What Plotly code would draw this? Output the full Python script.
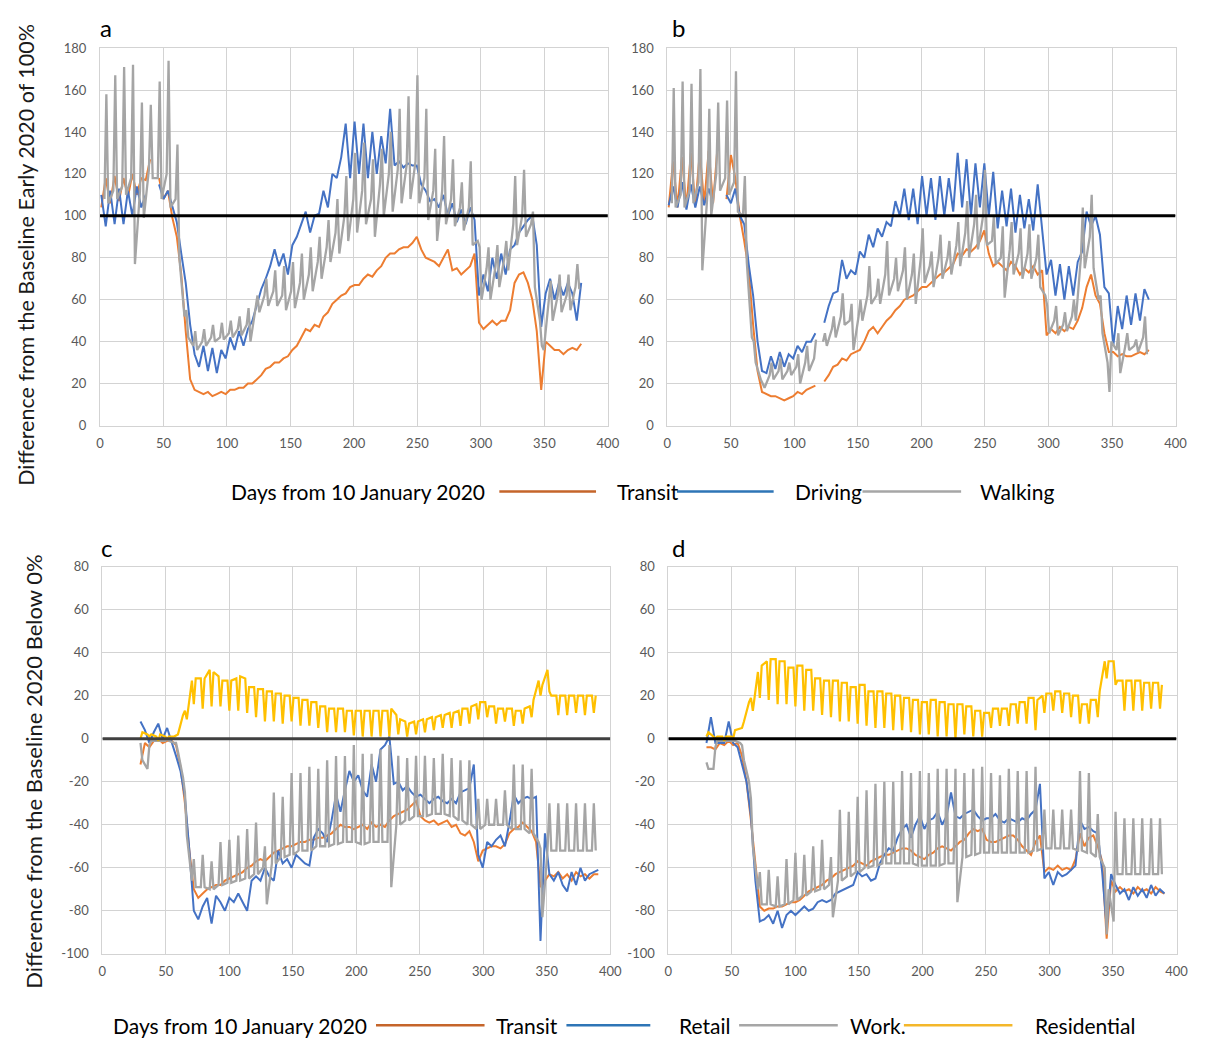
import plotly.graph_objects as go

# ======================= DATA =======================
# Panels a/b: smooth-ish series sampled every 3.5 days from day 1
days_ab = [1 + 3.5 * i for i in range(109)]
a_driving = [110, 95, 112, 96, 113, 96, 112, 100, 114, 104,
             110, None, None, 115, 108, 112, 104, 97, 82, 68,
             48, 34, 28, 38, 26, 37, 25, 36, 32, 42,
             36, 45, 38, 46, 50, 58, 65, 70, 76, 84,
             76, 82, 72, 86, 90, 96, 102, 92, 100, 101,
             112, 104, 120, 118, 128, 144, 118, 145, 120, 144,
             118, 140, 120, 138, 125, 151, 124, 126, 123, 125,
             124, 124, 115, 112, 107, 108, 104, 110, 100, 106,
             97, 103, 96, 104, 98, 62, 72, 64, 80, 70,
             82, 72, 84, 86, 92, 95, 98, 100, 86, 47,
             63, 70, 60, 68, 62, 68, 63, 50, 68]
a_transit = [104, 118, 106, 119, 107, 118, 109, 120, 110, 118,
             117, 127, None, 118, 108, 112, 99, 90, 72, 45,
             22, 17, 16, 15, 16, 14, 15, 16, 15, 17,
             17, 18, 18, 20, 20, 22, 24, 27, 28, 30,
             30, 32, 33, 36, 38, 42, 46, 45, 48, 47,
             52, 54, 58, 60, 62, 63, 66, 67, 67, 70,
             72, 71, 74, 76, 80, 82, 82, 84, 85, 85,
             87, 90, 84, 80, 79, 78, 76, 80, 84, 74,
             75, 72, 74, 76, 82, 49, 46, 48, 50, 48,
             50, 50, 55, 68, 72, 73, 68, 60, 45, 17,
             40, 38, 36, 36, 34, 36, 37, 36, 39]
b_driving = [105, 114, 104, 116, 103, 115, 104, 114, 105, 113,
             106, None, None, 110, 106, 113, 100, 96, 77, 62,
             40, 26, 25, 33, 27, 35, 28, 34, 32, 38,
             35, 40, 40, 44, None, 49, 57, 63, 64, 79,
             70, 74, 72, 83, 80, 91, 85, 94, 90, 97,
             95, 107, 100, 113, 98, 113, 96, 119, 100, 118,
             98, 119, 100, 118, 102, 130, 104, 127, 100, 125,
             104, 125, 100, 121, 94, 112, 95, 113, 92, 110,
             94, 108, 93, 115, 94, 72, 79, 62, 77, 60,
             76, 62, 78, 83, 102, 95, 100, 91, 66, 63,
             38, 57, 46, 62, 48, 63, 50, 65, 60]
b_transit = [104, 126, 104, 128, 104, 130, 105, 130, 106, 131,
             106, 133, None, 108, 129, 118, 100, 88, 74, 48,
             26, 16, 15, 14, 14, 13, 12, 13, 14, 16,
             15, 17, 18, 19, None, 21, 24, 28, 29, 32,
             31, 34, 35, 36, 40, 45, 47, 44, 47, 50,
             52, 55, 57, 60, 61, 62, 64, 66, 66, 68,
             70, 72, 73, 75, 77, 82, 81, 84, 83, 85,
             88, 93, 82, 76, 78, 76, 74, 78, 76, 72,
             75, 73, 76, 72, 74, 43, 46, 44, 47, 45,
             47, 46, 50, 56, 66, 72, 62, 58, 44, 35,
             35, 33, 34, 33, 33, 34, 35, 34, 36]

# Walking (weekly spikes): first spike on day 5, one spike per week
walk_first_peak = 5
a_walk_pre = [108, 112, 114, 118, 112, 122, 118, 120, 108, 52,
              38, 40, 42, 42, 44, 46, 48, 55, 62, 64,
              62, 64, 68, 72, 78, 85, 92, 100, 108, 112,
              108, 115, 120, 122, 124, 126, 118, 112, 112, 108,
              104, 104, 88, 75, 76, 80, 96, 100, 96, 50,
              58, 62, 62, 66]
a_walk_peak = [158, 167, 171, 172, 154, 153, 164, 174, 134, 55,
               45, 46, 48, 49, 50, 52, 56, 62, 70, 74,
               76, 78, 82, 85, 90, 98, 108, 119, 130, 135,
               127, 132, 140, 151, 157, 167, 151, 132, 138, 127,
               116, 126, 85, 85, 86, 88, 119, 122, 102, 38,
               69, 72, 72, 77]
a_walk_post = [106, 108, 110, 77, 99, 118, 108, 104, 80, 42,
               36, 38, 40, 41, 42, 43, 40, 54, 57, 57,
               55, 56, 60, 64, 70, 78, 82, 88, 92, 96,
               90, 100, 102, 106, 108, 106, 98, 88, 96, 95,
               93, 86, 60, 60, 66, 74, 86, 90, 66, 36,
               50, 54, 55, 65]
b_walk_pre = [106, 110, 112, 116, 110, 120, 118, 116, 100, 42,
              22, 24, 26, 26, 28, 30, 32, 40, 46, 52,
              50, 52, 62, 62, 72, 70, 74, 72, 80, 76,
              80, 80, 86, 92, 96, 100, 88, 80, 84, 82,
              82, 80, 62, 50, 48, 52, 80, 90, 60, 30,
              36, 38, 38, 42]
b_walk_peak = [161, 164, 163, 170, 151, 154, 155, 169, 119, 40,
               20, 30, 32, 30, 34, 38, 41, 44, 52, 63,
               58, 60, 76, 70, 88, 80, 85, 82, 94, 83,
               91, 88, 97, 107, 110, 122, 100, 95, 97, 94,
               96, 91, 57, 57, 54, 60, 104, 110, 62, 16,
               44, 44, 41, 52]
b_walk_post = [104, 104, 106, 74, 100, 112, 110, 102, 78, 30,
               18, 22, 22, 24, 20, 26, None, 38, 42, 48,
               36, 50, 58, 58, 62, 64, 60, 58, 68, 66,
               70, 72, 76, 80, 84, 86, 77, 61, 72, 70,
               70, 66, 44, 43, 45, 50, 75, 75, 44, 40,
               25, 36, 35, 34]

# Panels c/d: smooth-ish series sampled every 3.5 days from day 30
days_cd = [30 + 3.5 * i for i in range(104)]
c_transit = [-12, -2, -4, -1, 0, -2, -1, -1, -3, -13,
             -30, -52, -70, -74, -72, -70, -69, -68, -68, -66,
             -65, -64, -63, -62, -60, -59, -57, -56, -57, -55,
             -53, -52, -51, -50, -50, -49, -48, -48, -47, -47,
             -46, -46, -45, -44, -42, -40, -41, -41, -42, -41,
             -40, -42, -39, -41, -40, -41, -38, -36, -35, -34,
             -33, -31, -29, -36, -38, -39, -38, -40, -39, -38,
             -41, -40, -44, -45, -43, -48, -57, -52, -51, -50,
             -50, -51, -49, -44, -42, -41, -39, -41, -43, -48,
             -69, -66, -63, -64, -62, -65, -63, -66, -62, -64,
             -63, -65, -63, -63]
c_retail = [8, 4, -2, 3, 7, 0, 5, -1, -8, -15,
            -27, -52, -80, -84, -78, -74, -86, -73, -76, -80,
            -74, -76, -72, -76, -80, -66, -64, -66, -60, -64,
            -66, -52, -58, -56, -60, -54, -56, -58, -59, -46,
            -42, -44, -48, -38, -26, -34, -24, -15, -20, -17,
            -24, -27, -12, -20, -5, -3, 1, -21, -20, -24,
            -22, -25, -27, -26, -28, -30, -28, -27, -29, -30,
            -28, -30, -25, -24, -23, -12, -54, -60, -48, -50,
            -47, -45, -50, -39, -26, -30, -28, -27, -28, -27,
            -94, -44, -63, -66, -62, -68, -71, -62, -68, -60,
            -66, -63, -62, -61]
d_transit = [-4, -4, -5, -2, -3, -1, -3, -2, -8, -20,
             -38, -58, -78, -80, -79, -79, -78, -78, -77, -76,
             -76, -75, -73, -71, -70, -69, -68, -66, -65, -63,
             -62, -61, -60, -59, -57, -58, -59, -57, -56, -55,
             -54, -54, -53, -52, -51, -51, -52, -54, -55, -56,
             -54, -53, -51, -50, -51, -52, -50, -48, -47, -44,
             -42, -43, -42, -47, -48, -48, -47, -46, -45, -45,
             -47, -50, -52, -54, -48, -45, -62, -60, -61, -59,
             -61, -60, -61, -56, -44, -50, -46, -45, -50, -57,
             -93, -66, -71, -69, -71, -70, -72, -69, -71, -70,
             -72, -69, -71, -72]
d_retail = [-2, 10, -2, -2, -2, 8, -2, -4, -12, -20,
            -36, -66, -85, -84, -82, -86, -80, -88, -82, -80,
            -82, -80, -78, -80, -79, -76, -75, -76, -75, -72,
            -71, -70, -69, -68, -62, -64, -63, -66, -65, -58,
            -54, -51, -52, -46, -42, -40, -46, -40, -36, -42,
            -38, -37, -34, -40, -36, -25, -36, -37, -35, -34,
            -33, -36, -38, -37, -37, -35, -38, -39, -37, -38,
            -39, -37, -38, -35, -33, -21, -65, -62, -68, -62,
            -64, -63, -61, -59, -38, -42, -41, -43, -44, -62,
            -88, -63, -68, -72, -70, -75, -69, -73, -70, -74,
            -68, -73, -70, -72]

# Work (weekly spikes up) and Residential (weekly dips): first event day 30
week_first_cd = 30
c_work_pre = [None, -14, -1, -1, -2, -18, -66, -69, -70, -68,
              -67, -66, -65, -63, -60, -58, -55, -54, -52, -52,
              -50, -50, -49, -48, -48, -49, -48, -48, -48, -40,
              -38, -36, -36, -35, -35, -36, -38, -40, -42, -40,
              -40, -40, -42, -42, -44, -48, -52, -52, -52, -52,
              -52, -52]
c_work_peak = [-2, -3, -1, 0, -2, -25, -56, -54, -57, -48,
               -47, -45, -42, -39, -50, -25, -27, -16, -16, -13,
               -14, -10, -8, -8, -3, -7, -7, -5, -3, -8,
               -9, -8, -8, -9, -7, -9, -10, -10, -28, -28,
               -28, -24, -12, -12, -14, -51, -30, -30, -30, -30,
               -30, -30]
c_work_post = [-10, -1, -1, -1, -6, -45, -69, -69, -70, -68,
               -67, -66, -65, -63, -77, -58, -55, -54, -52, -52,
               -50, -50, -49, -48, -48, -49, -48, -48, -69, -40,
               -38, -36, -36, -35, -35, -36, -38, -40, -42, -40,
               -40, -40, -42, -42, -44, -83, -52, -52, -52, -52,
               -52, -52]
d_work_pre = [None, -14, -1, -1, -2, -20, -70, -77, -78, -77,
              -75, -73, -71, -70, -68, -66, -64, -62, -60, -59,
              -58, -58, -58, -58, -59, -59, -59, -58, -58, -55,
              -54, -53, -53, -53, -53, -53, -53, -52, -51, -51,
              -51, -51, -52, -53, -55, -60, -85, -63, -63, -63,
              -63, -63]
d_work_peak = [-11, -4, -1, -1, -3, -28, -62, -61, -64, -56,
               -53, -54, -50, -47, -55, -33, -34, -27, -24, -21,
               -20, -20, -15, -16, -15, -16, -14, -14, -14, -16,
               -14, -13, -16, -17, -14, -15, -15, -13, -33, -33,
               -33, -33, -15, -16, -35, -91, -34, -37, -37, -37,
               -37, -37]
d_work_post = [-14, -1, -1, -1, -10, -50, -77, -77, -78, -77,
               -75, -73, -71, -70, -83, -66, -64, -62, -60, -59,
               -58, -58, -58, -58, -59, -59, -59, -58, -76, -55,
               -54, -53, -53, -53, -53, -53, -53, -52, -51, -51,
               -51, -51, -52, -53, -55, -70, -63, -63, -63, -63,
               -63, -63]
c_res_pre = [None, 2, 1, 1, 1, 11, 27, 28, 32, 29,
             27, 28, 28, 24, 23, 22, 21, 20, 19, 18,
             17, 15, 14, 14, 13, 13, 13, 13, 13, 11,
             8, 8, 9, 10, 11, 12, 13, 14, 16, 17,
             15, 14, 14, 13, 15, 27, 32, 20, 20, 20,
             20, 20]
c_res_dip = [0, 1, -1, 0, 1.5, 13, 16, 14, 15, 15,
             13, 13, 12, 10, 8, 8, 7, 8, 6, 6,
             5, 3, 3, 3, 1.5, 1, 1, 1, 1, 2,
             1, 2, 3, 4, 5, 5, 6, 7, 9, 10,
             7, 8, 6, 7, 10, 20, 22, 11, 11, 12,
             11, 12]
c_res_post = [3, 2, 2, 1, 2, 9, 28, 28, 31, 27,
              27, 29, 24, 23, 22, 21, 20, 19, 18, 17,
              15, 14, 14, 13, 13, 13, 13, 13, 14, 9,
              7, 8, 9, 10, 11, 12, 14, 15, 17, 15,
              14, 14, 13, 14, 18, 25, 20, 20, 20, 20,
              20, 20]
d_res_pre = [None, 1, 1, 1, 5, 17, 31, 36, 37, 36,
             33, 34, 32, 28, 27, 27, 26, 24, 25, 22,
             22, 21, 20, 19, 18, 17, 18, 17, 16, 16,
             15, 13, 12, 14, 14, 16, 17, 19, 20, 21,
             22, 21, 20, 16, 18, 36, 36, 27, 27, 27,
             26, 26]
d_res_dip = [1, 0, -1, 0, 5, 19, 19, 18, 16, 16,
             15, 13, 13, 11, 10, 8, 8, 7, 6, 5,
             5, 4, 4, 3, 2, 2, 1, 1, 0, 2,
             1, 1, 5, 6, 6, 7, 7, 4, 12, 13,
             12, 10, 7, 7, 10, 28, 25, 13, 13, 13,
             14, 14]
d_res_post = [3, 1, 1, 4, 8, 13, 34, 37, 36, 33,
              34, 32, 28, 27, 27, 26, 24, 25, 22, 22,
              21, 20, 19, 18, 17, 18, 17, 16, 16, 15,
              13, 12, 14, 14, 16, 17, 19, 18, 21, 22,
              21, 20, 16, 18, 22, 36, 27, 27, 27, 26,
              26, 25]

x_ticks = [0, 50, 100, 150, 200, 250, 300, 350, 400]
top_ticks = [0, 20, 40, 60, 80, 100, 120, 140, 160, 180]
bottom_ticks = [-100, -80, -60, -40, -20, 0, 20, 40, 60, 80]

# ======================= STYLE =======================
ORANGE = "#ED7D31"
BLUE = "#4472C4"
GREY = "#A5A5A5"
YELLOW = "#FFC000"
FONT = "Lato"
W, H = 1205, 1045

fig = go.Figure()


def weekly(first_day, pre, mid, post):
    xs, ys = [], []
    for j in range(len(mid)):
        d = first_day + 7 * j
        xs += [d - 1.5, d, d + 1.5]
        ys += [pre[j], mid[j], post[j]]
    return xs, ys


def add(x, y, color, xa, ya, width=2.0):
    n = len(y)
    fig.add_trace(go.Scatter(x=x[:n], y=y, mode="lines", xaxis=xa, yaxis=ya,
                             line=dict(color=color, width=width),
                             connectgaps=False, hoverinfo="skip"))


add(days_ab, a_transit, ORANGE, "x", "y")
add(days_ab, a_driving, BLUE, "x", "y")
add(*weekly(walk_first_peak, a_walk_pre, a_walk_peak, a_walk_post), GREY, "x", "y", 2.3)
add(days_ab, b_transit, ORANGE, "x2", "y2")
add(days_ab, b_driving, BLUE, "x2", "y2")
add(*weekly(walk_first_peak, b_walk_pre, b_walk_peak, b_walk_post), GREY, "x2", "y2", 2.3)
add(days_cd, c_transit, ORANGE, "x3", "y3")
add(days_cd, c_retail, BLUE, "x3", "y3")
add(*weekly(week_first_cd, c_work_pre, c_work_peak, c_work_post), GREY, "x3", "y3", 2.3)
add(*weekly(week_first_cd, c_res_pre, c_res_dip, c_res_post), YELLOW, "x3", "y3", 2.2)
add(days_cd, d_transit, ORANGE, "x4", "y4")
add(days_cd, d_retail, BLUE, "x4", "y4")
add(*weekly(week_first_cd, d_work_pre, d_work_peak, d_work_post), GREY, "x4", "y4", 2.3)
add(*weekly(week_first_cd, d_res_pre, d_res_dip, d_res_post), YELLOW, "x4", "y4", 2.2)


def px_x(p):
    return p / W


def px_y(p):
    return 1 - p / H


GRID = "#d3d3d3"
TICKFONT = dict(family=FONT, size=13, color="#595959")


def xaxis(domain, anchor):
    return dict(domain=domain, anchor=anchor, range=[0, 400], tickvals=x_ticks,
                ticktext=[str(v) for v in x_ticks],
                showgrid=True, gridcolor=GRID, gridwidth=1, showline=True,
                linecolor=GRID, mirror=True, zeroline=False, ticks="",
                tickfont=TICKFONT, ticklabelstandoff=6, fixedrange=True)


def yaxis(domain, anchor, rng, ticks):
    return dict(domain=domain, anchor=anchor, range=rng, tickvals=ticks,
                ticktext=[str(v) for v in ticks],
                showgrid=True, gridcolor=GRID, gridwidth=1, showline=True,
                linecolor=GRID, mirror=True, zeroline=False, ticks="",
                tickfont=TICKFONT, ticklabelstandoff=10, fixedrange=True)


top_dom = [px_y(424), px_y(40.7)]
bot_dom = [px_y(960.5), px_y(567.3)]

fig.update_layout(
    width=W, height=H, margin=dict(l=0, r=0, t=0, b=0),
    paper_bgcolor="white", plot_bgcolor="white", showlegend=False,
    xaxis=xaxis([px_x(97.3), px_x(612)], "y"),
    yaxis=yaxis(top_dom, "x", [0, 180], top_ticks),
    xaxis2=xaxis([px_x(672.3), px_x(1187.3)], "y2"),
    yaxis2=yaxis(top_dom, "x2", [0, 180], top_ticks),
    xaxis3=xaxis([px_x(99.7), px_x(614.5)], "y3"),
    yaxis3=yaxis(bot_dom, "x3", [-100, 80], bottom_ticks),
    xaxis4=xaxis([px_x(673.3), px_x(1188.3)], "y4"),
    yaxis4=yaxis(bot_dom, "x4", [-100, 80], bottom_ticks),
)

shapes = []
for xr, yr, yv, col in [("x", "y", 100, "black"), ("x2", "y2", 100, "black"),
                        ("x3", "y3", 0, "#404040"), ("x4", "y4", 0, "black")]:
    shapes.append(dict(type="line", xref=xr, yref=yr, x0=0, x1=400, y0=yv, y1=yv,
                       line=dict(color=col, width=3)))

annotations = []
for txt, x, y in [("a", 103, 20), ("b", 684, 20), ("c", 104, 548), ("d", 684, 548)]:
    annotations.append(dict(text=txt, x=px_x(x), y=px_y(y), xref="paper", yref="paper",
                            showarrow=False, xanchor="center", yanchor="middle",
                            font=dict(family=FONT, size=24, color="black")))
annotations.append(dict(text="Difference from the Baseline Early 2020 of 100%",
                        x=px_x(22), y=px_y(251), xref="paper", yref="paper",
                        showarrow=False, textangle=-90, xanchor="center", yanchor="middle",
                        font=dict(family=FONT, size=21.5, color="#1a1a1a")))
annotations.append(dict(text="Difference from the Baseline 2020 Below 0%",
                        x=px_x(30), y=px_y(776), xref="paper", yref="paper",
                        showarrow=False, textangle=-90, xanchor="center", yanchor="middle",
                        font=dict(family=FONT, size=22, color="#1a1a1a")))

LEGFONT = dict(family=FONT, size=21, color="black")


def legend_row(yc, label_right, items):
    annotations.append(dict(text="Days from 10 January 2020", x=px_x(label_right), y=px_y(yc),
                            xref="paper", yref="paper", showarrow=False,
                            xanchor="right", yanchor="middle", font=LEGFONT))
    for (x0, x1, col, txt, tx) in items:
        shapes.append(dict(type="line", xref="paper", yref="paper",
                           x0=px_x(x0), x1=px_x(x1), y0=px_y(yc), y1=px_y(yc),
                           line=dict(color=col, width=2.5)))
        annotations.append(dict(text=txt, x=px_x(tx), y=px_y(yc), xref="paper", yref="paper",
                                showarrow=False, xanchor="left", yanchor="middle", font=LEGFONT))


legend_row(491, 490, [(502, 600, "#C5652A", "Transit", 619),
                      (682, 780, "#2E75B6", "Driving", 800),
                      (870, 970, "#A6A6A6", "Walking", 987)])
legend_row(1033, 370, [(377, 487, "#C5652A", "Transit", 497),
                       (570, 655, "#2E75B6", "Retail", 682),
                       (745, 845, "#A6A6A6", "Work.", 855),
                       (912, 1022, "#F4B72A", "Residential", 1043)])

fig.update_layout(shapes=shapes, annotations=annotations)
fig.write_html("out.html")
